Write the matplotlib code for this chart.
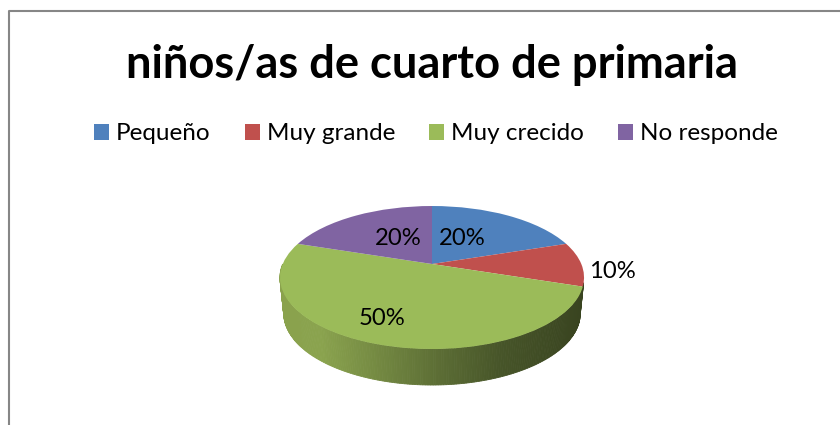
import numpy as np
import matplotlib
matplotlib.use("Agg")
import matplotlib.pyplot as plt
from matplotlib.transforms import Transform

plt.rcParams['font.family'] = ['Lato', 'DejaVu Sans']

titulo = "niños/as de cuarto de primaria"
categorias = ["Pequeño", "Muy grande", "Muy crecido", "No responde"]
valores = [20, 10, 50, 20]
colores = ["#4f81bd", "#c0504d", "#9bbb59", "#8064a2"]

# pie centre in the picture (pixels, y up) and perspective of the 3d look
cx, cy = 432, 425 - 264
k = 0.189
a = 149.3
b = 68.95
depth = 36


class Perspectiva(Transform):
    input_dims = 2
    output_dims = 2

    def __init__(self, dy=0, shrink=1.0):
        super().__init__()
        self.dy = dy
        self.shrink = shrink

    def transform_non_affine(self, xy):
        xy = np.asarray(xy, dtype=float)
        d = 1 + k * xy[:, 1]
        return np.column_stack([cx + self.shrink * a * xy[:, 0] / d,
                                cy + b * xy[:, 1] / d - self.dy])


fig = plt.figure(figsize=(8.4, 4.25), dpi=100)
ax = fig.add_axes([0, 0, 1, 1])

wedges, _ = ax.pie(valores, colors=colores, startangle=90, counterclock=False,
                   wedgeprops=dict(linewidth=0))
ax.set_aspect('auto')
ax.set_xlim(0, 840)
ax.set_ylim(0, 425)
ax.axis('off')

persp = Perspectiva()
for w in wedges:
    w.set_transform(persp + ax.transData)
    w.set_zorder(3)

# side of the pie, only the green slice shows there
stops_x = [280, 320, 432, 500, 583]
stops_r = [0x8a, 0x8a, 0x5e, 0x47, 0x39]
stops_g = [0xa2, 0xa3, 0x70, 0x55, 0x44]
stops_b = [0x4d, 0x4e, 0x36, 0x29, 0x20]
angulos = np.radians(np.linspace(180, 345, 200))
arriba = Perspectiva().transform_non_affine(np.column_stack([np.cos(angulos), np.sin(angulos)]))
abajo = Perspectiva(depth, 0.975).transform_non_affine(np.column_stack([np.cos(angulos), np.sin(angulos)]))
for i in range(len(angulos) - 1):
    xm = arriba[i, 0]
    c = (np.interp(xm, stops_x, stops_r) / 255,
         np.interp(xm, stops_x, stops_g) / 255,
         np.interp(xm, stops_x, stops_b) / 255)
    ax.fill([arriba[i, 0], arriba[i + 1, 0], abajo[i + 1, 0], abajo[i, 0]],
            [arriba[i, 1], arriba[i + 1, 1], abajo[i + 1, 1], abajo[i, 1]],
            color=c, lw=0.6, zorder=2)

# data labels
pos_etiquetas = [(462, 238.5), (612.5, 271.5), (382, 318.5), (398, 238.5)]
for v, (px, py) in zip(valores, pos_etiquetas):
    ax.text(px, 425 - py, f"{v}%", ha='center', va='center', fontsize=17.2, color='black', zorder=5)

ax.text(431.5, 425 - 65, titulo, ha='center', va='center', fontsize=32.6, fontweight='bold', color='black')

fs = 17.5
ax.legend(wedges, categorias, ncol=4, frameon=False, fontsize=fs, loc='center',
          bbox_to_anchor=(436 / 840, (425 - 134) / 425), handlelength=10.8 / fs, handleheight=10.8 / fs,
          handletextpad=0.29, columnspacing=1.4, borderpad=0, labelcolor='black')

# chart frame, cut by the picture on the right and at the bottom
ax.plot([9, 9, 840], [0, 414, 414], color='#868686', lw=1.5, clip_on=False)

fig.savefig("out.png", dpi=100, facecolor='white')
